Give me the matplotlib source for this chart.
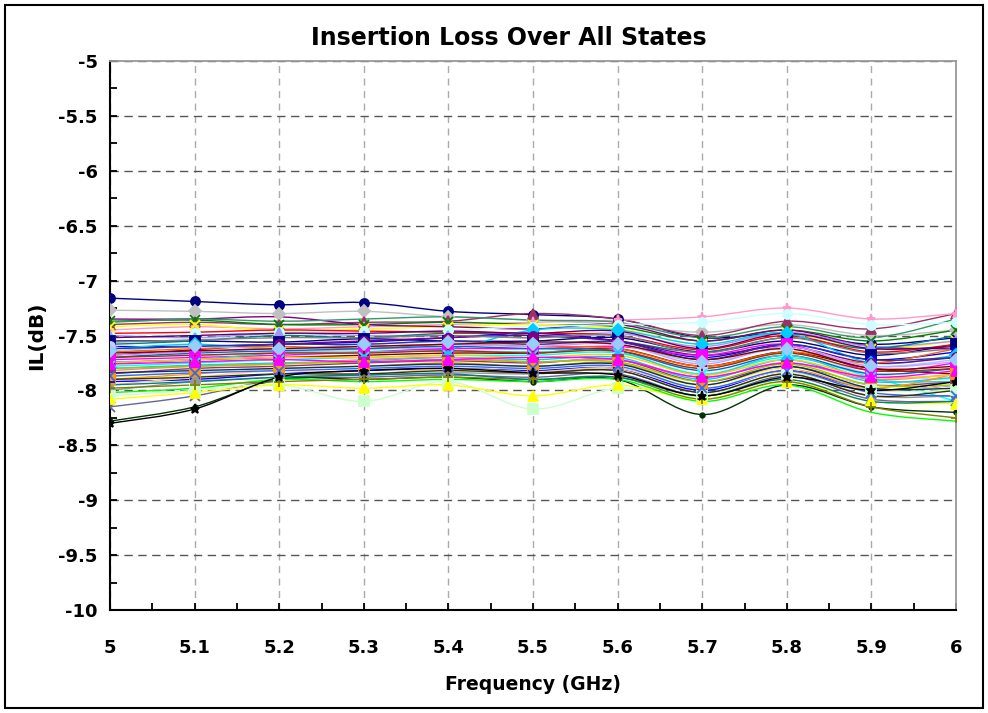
import matplotlib
matplotlib.use("Agg")
import matplotlib.pyplot as plt
from matplotlib.path import Path
from matplotlib.patches import PathPatch, Rectangle
from matplotlib.ticker import MultipleLocator
import numpy as np

plt.rcParams['font.family'] = ['DejaVu Sans']

# frequency points (GHz)
freq = [5.0, 5.1, 5.2, 5.3, 5.4, 5.5, 5.6, 5.7, 5.8, 5.9, 6.0]

# insertion loss per state (dB)
il_01 = [-7.16, -7.19, -7.22, -7.20, -7.28, -7.31, -7.35, -7.52, -7.48, -7.58, -7.52]
il_02 = [-7.27, -7.28, -7.30, -7.28, -7.33, -7.36, -7.40, -7.47, -7.40, -7.50, -7.45]
il_03 = [-7.40, -7.38, -7.40, -7.38, -7.37, -7.30, -7.35, -7.50, -7.37, -7.44, -7.30]
il_04 = [-7.45, -7.42, -7.44, -7.42, -7.40, -7.38, -7.36, -7.33, -7.25, -7.35, -7.30]
il_05 = [-7.37, -7.36, -7.40, -7.40, -7.38, -7.40, -7.42, -7.55, -7.45, -7.55, -7.45]
il_06 = [-7.42, -7.40, -7.46, -7.44, -7.42, -7.40, -7.44, -7.58, -7.48, -7.62, -7.55]
il_07 = [-7.35, -7.35, -7.33, -7.40, -7.42, -7.44, -7.40, -7.55, -7.45, -7.60, -7.62]
il_08 = [-7.38, -7.35, -7.37, -7.35, -7.33, -7.36, -7.38, -7.52, -7.42, -7.52, -7.35]
il_09 = [-7.50, -7.48, -7.47, -7.46, -7.45, -7.42, -7.40, -7.38, -7.30, -7.40, -7.38]
il_10 = [-7.50, -7.52, -7.48, -7.50, -7.50, -7.52, -7.48, -7.60, -7.47, -7.60, -7.55]
il_11 = [-7.55, -7.55, -7.56, -7.53, -7.55, -7.55, -7.52, -7.65, -7.55, -7.68, -7.58]
il_12 = [-7.58, -7.55, -7.50, -7.52, -7.48, -7.50, -7.55, -7.65, -7.52, -7.62, -7.50]
il_13 = [-7.60, -7.60, -7.58, -7.56, -7.52, -7.48, -7.55, -7.70, -7.58, -7.72, -7.65]
il_14 = [-7.48, -7.47, -7.45, -7.46, -7.47, -7.48, -7.50, -7.63, -7.50, -7.65, -7.58]
il_15 = [-7.62, -7.58, -7.62, -7.60, -7.62, -7.45, -7.45, -7.58, -7.48, -7.75, -7.68]
il_16 = [-7.68, -7.63, -7.58, -7.55, -7.52, -7.50, -7.55, -7.68, -7.60, -7.75, -7.70]
il_17 = [-7.60, -7.68, -7.65, -7.63, -7.60, -7.58, -7.65, -7.80, -7.65, -7.85, -7.90]
il_18 = [-7.72, -7.70, -7.68, -7.65, -7.62, -7.62, -7.60, -7.68, -7.58, -7.82, -7.75]
il_19 = [-7.75, -7.72, -7.70, -7.68, -7.66, -7.66, -7.62, -7.78, -7.65, -7.80, -7.85]
il_20 = [-7.78, -7.75, -7.72, -7.70, -7.68, -7.68, -7.66, -7.85, -7.70, -7.88, -8.10]
il_21 = [-7.80, -7.77, -7.75, -7.73, -7.70, -7.72, -7.70, -7.90, -7.72, -7.92, -7.88]
il_22 = [-7.85, -7.80, -7.78, -7.75, -7.73, -7.75, -7.72, -7.92, -7.78, -7.95, -7.92]
il_23 = [-7.90, -7.85, -7.80, -7.78, -7.75, -7.78, -7.75, -7.95, -7.80, -7.98, -7.85]
il_24 = [-7.92, -7.90, -7.85, -7.82, -7.80, -7.82, -7.80, -8.00, -7.82, -8.00, -7.95]
il_25 = [-8.00, -7.92, -7.88, -7.86, -7.84, -7.85, -7.82, -8.02, -7.85, -8.05, -8.05]
il_26 = [-8.15, -8.05, -7.90, -7.88, -7.86, -7.88, -7.85, -8.05, -7.87, -8.08, -8.10]
il_27 = [-8.28, -8.15, -7.90, -7.90, -7.88, -7.92, -7.90, -8.22, -7.95, -8.15, -8.20]
il_28 = [-8.05, -8.00, -7.95, -8.10, -7.92, -8.17, -7.98, -8.05, -7.85, -8.00, -8.00]
il_29 = [-8.08, -8.02, -7.95, -7.98, -7.95, -8.05, -7.95, -8.08, -7.92, -8.10, -8.12]
il_30 = [-8.02, -7.98, -7.90, -7.92, -7.90, -7.92, -7.90, -8.10, -7.95, -8.20, -8.28]
il_31 = [-7.98, -7.95, -7.92, -7.90, -7.88, -7.90, -7.88, -8.08, -7.92, -8.15, -8.25]
il_32 = [-7.95, -7.88, -7.82, -7.85, -7.80, -7.83, -7.80, -7.98, -7.83, -8.00, -7.95]
il_33 = [-7.65, -7.62, -7.60, -7.62, -7.58, -7.60, -7.62, -7.78, -7.65, -7.75, -7.62]
il_34 = [-7.82, -7.78, -7.76, -7.72, -7.70, -7.74, -7.72, -7.88, -7.75, -7.90, -7.85]
il_35 = [-7.70, -7.66, -7.64, -7.62, -7.60, -7.62, -7.64, -7.82, -7.68, -7.85, -7.80]
il_36 = [-7.74, -7.72, -7.66, -7.65, -7.64, -7.65, -7.65, -7.86, -7.68, -7.90, -7.92]
il_37 = [-7.88, -7.84, -7.80, -7.78, -7.78, -7.80, -7.78, -7.96, -7.80, -7.95, -8.00]
il_38 = [-7.64, -7.60, -7.62, -7.58, -7.56, -7.58, -7.58, -7.74, -7.62, -7.78, -7.72]
il_39 = [-7.68, -7.65, -7.62, -7.60, -7.58, -7.60, -7.58, -7.76, -7.60, -7.78, -7.74]
il_40 = [-7.87, -7.84, -7.82, -7.80, -7.78, -7.80, -7.78, -7.98, -7.82, -8.02, -8.05]
il_41 = [-7.80, -7.78, -7.76, -7.74, -7.72, -7.74, -7.74, -7.92, -7.76, -7.95, -7.95]
il_42 = [-7.75, -7.72, -7.70, -7.70, -7.68, -7.70, -7.68, -7.86, -7.72, -7.88, -7.86]
il_43 = [-7.62, -7.60, -7.58, -7.58, -7.55, -7.58, -7.56, -7.72, -7.58, -7.72, -7.70]
il_44 = [-7.70, -7.68, -7.66, -7.66, -7.64, -7.66, -7.64, -7.80, -7.66, -7.82, -7.80]
il_45 = [-7.90, -7.88, -7.85, -7.85, -7.82, -7.84, -7.82, -8.02, -7.85, -8.05, -8.00]
il_46 = [-7.84, -7.82, -7.80, -7.78, -7.76, -7.78, -7.76, -7.95, -7.78, -7.98, -7.98]
il_47 = [-7.56, -7.54, -7.52, -7.52, -7.50, -7.52, -7.50, -7.66, -7.52, -7.66, -7.62]
il_48 = [-7.52, -7.50, -7.48, -7.48, -7.46, -7.48, -7.46, -7.62, -7.48, -7.62, -7.60]
il_49 = [-7.66, -7.64, -7.62, -7.60, -7.58, -7.56, -7.58, -7.72, -7.62, -7.80, -7.78]
il_50 = [-7.95, -7.92, -7.88, -7.86, -7.85, -7.90, -7.88, -8.05, -7.90, -8.10, -8.10]
il_51 = [-8.30, -8.17, -7.88, -7.82, -7.80, -7.84, -7.86, -8.05, -7.88, -8.00, -7.92]
il_52 = [-7.76, -7.74, -7.72, -7.74, -7.72, -7.70, -7.72, -7.88, -7.75, -7.88, -7.82]

states = [il_01, il_02, il_03, il_04, il_05, il_06, il_07, il_08, il_09, il_10,
          il_11, il_12, il_13, il_14, il_15, il_16, il_17, il_18, il_19, il_20,
          il_21, il_22, il_23, il_24, il_25, il_26, il_27, il_28, il_29, il_30,
          il_31, il_32, il_33, il_34, il_35, il_36, il_37, il_38, il_39, il_40,
          il_41, il_42, il_43, il_44, il_45, il_46, il_47, il_48, il_49, il_50,
          il_51, il_52]

# excel-ish line colours and markers, one per state
colors = ['#000080', '#C0C0C0', '#993366', '#FF99CC', '#008000', '#FFFF00', '#800080', '#339966',
          '#CCFFFF', '#9999FF', '#000080', '#008080', '#0000FF', '#FF0000', '#00CCFF', '#800080',
          '#CCCCFF', '#FF00FF', '#800000', '#00FFFF', '#00CCFF', '#993366', '#FF9900', '#0000FF',
          '#969696', '#666699', '#003300', '#CCFFCC', '#FFFF00', '#00FF00', '#808000', '#FFCC99',
          '#FF6600', '#FF8080', '#0066CC', '#33CCCC', '#FFFF99', '#99CCFF', '#CC99FF', '#3366FF',
          '#99CC00', '#FFCC00', '#333399', '#993300', '#333300', '#003366', '#808080', '#660066',
          '#800000', '#008080', '#000000', '#FF00FF']
markers = ['o', 'D', '^', '*', 'x', 'x', '', '', 'o', '^', 's', '', 'o', '', 'D', 'o',
           'o', 's', '+', 'x', 'D', 's', 's', '_', 'o', 'x', '.', 's', '^', '', '+', '',
           '', '', '', '', '', 'D', '', 'x', '', '', '', '', '', '', '', '',
           '', '', '*', '^']


def smooth_path(xs, ys):
    # bezier segments through the points, similar to excel's smoothed lines
    pts = np.column_stack([xs, ys])
    n = len(pts)
    verts = [pts[0]]
    codes = [Path.MOVETO]
    for i in range(n - 1):
        p0 = pts[max(i - 1, 0)]
        p1 = pts[i]
        p2 = pts[i + 1]
        p3 = pts[min(i + 2, n - 1)]
        c1 = p1 + (p2 - p0) / 6.0
        c2 = p2 - (p3 - p1) / 6.0
        verts += [c1, c2, p2]
        codes += [Path.CURVE4] * 3
    return Path(verts, codes)


fig = plt.figure(figsize=(9.88, 7.13), dpi=100)
ax = fig.add_axes([110 / 988, 103 / 713, 846 / 988, 549 / 713])

for vals, col, mk in zip(states, colors, markers):
    ax.add_patch(PathPatch(smooth_path(freq, vals), fill=False, edgecolor=col, lw=1.0, zorder=3))
    if mk:
        ax.plot(freq, vals, linestyle='none', marker=mk, color=col, markersize=6.5,
                markeredgewidth=1.3, zorder=4)

ax.set_xlim(5, 6)
ax.set_ylim(-10, -5)
ax.xaxis.set_major_locator(MultipleLocator(0.1))
ax.xaxis.set_minor_locator(MultipleLocator(0.05))
ax.yaxis.set_major_locator(MultipleLocator(0.5))
ax.yaxis.set_minor_locator(MultipleLocator(0.25))
ax.xaxis.set_major_formatter(plt.FuncFormatter(lambda v, p: f"{v:g}"))
ax.yaxis.set_major_formatter(plt.FuncFormatter(lambda v, p: f"{v:g}"))

ax.tick_params(axis='both', which='both', direction='in', length=5, width=1.3, color='black')
ax.tick_params(axis='x', which='major', pad=21, labelsize=13)
ax.tick_params(axis='y', which='major', pad=9, labelsize=13)
for lab in ax.get_xticklabels() + ax.get_yticklabels():
    lab.set_fontweight('bold')

ax.grid(axis='y', which='major', color='#555555', linestyle=(0, (6, 4)), lw=1.0, zorder=1)
ax.grid(axis='x', which='major', color='#AAAAAA', linestyle=(0, (5, 4)), lw=1.0, zorder=1)

ax.spines['left'].set_color('black')
ax.spines['bottom'].set_color('black')
ax.spines['left'].set_linewidth(1.5)
ax.spines['bottom'].set_linewidth(1.5)
ax.spines['top'].set_color('#999999')
ax.spines['right'].set_color('#999999')
ax.spines['top'].set_linewidth(1.3)
ax.spines['right'].set_linewidth(1.3)

fig.text(509 / 988, 1 - 38 / 713, 'Insertion Loss Over All States', ha='center', va='center',
         fontsize=17, fontweight='bold')
fig.text(533 / 988, 1 - 685 / 713, 'Frequency (GHz)', ha='center', va='center',
         fontsize=13.5, fontweight='bold')
fig.text(37 / 988, 1 - 336 / 713, 'IL(dB)', ha='center', va='center', rotation=90,
         fontsize=14.5, fontweight='bold')

# outer chart border
fig.patches.append(Rectangle((5 / 988, 5 / 713), 978 / 988, 703 / 713, transform=fig.transFigure,
                             fill=False, edgecolor='black', lw=1.5))

fig.savefig('out.png', dpi=100)
